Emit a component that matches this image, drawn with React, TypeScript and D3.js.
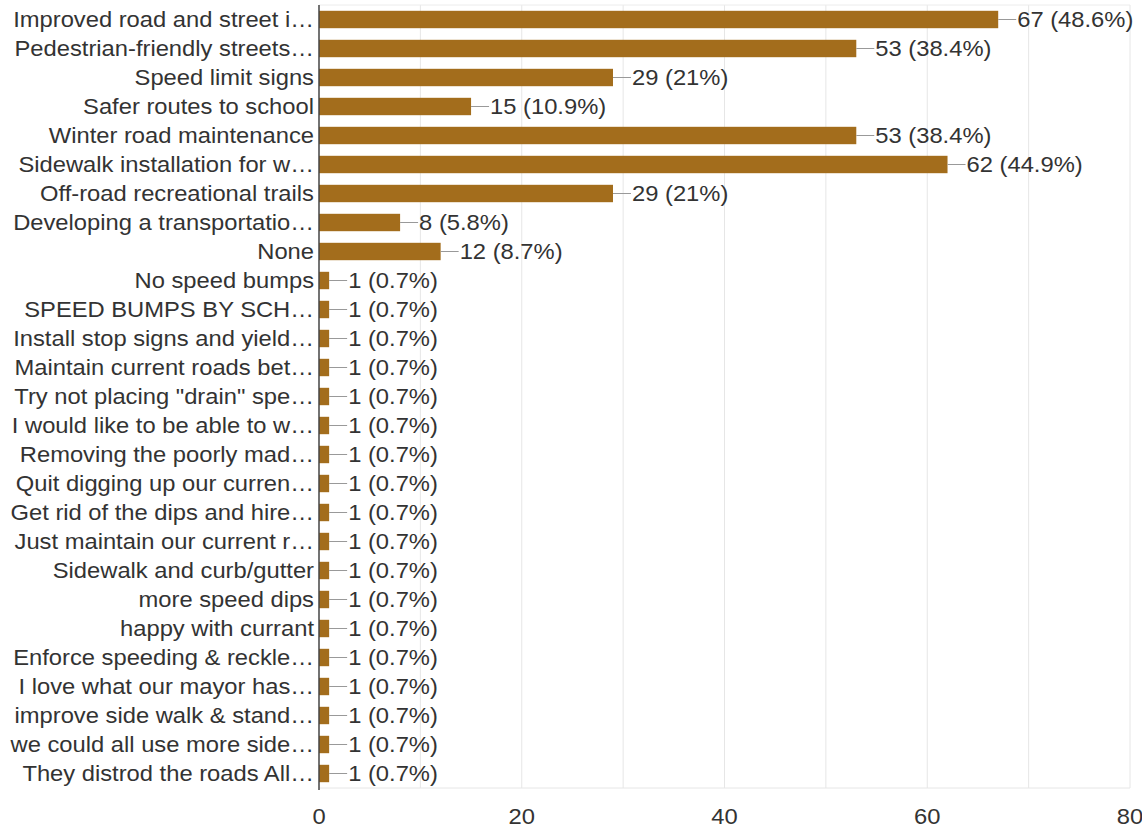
import * as d3 from "d3";

const LABELS = [
  "Improved road and street i…",
  "Pedestrian-friendly streets…",
  "Speed limit signs",
  "Safer routes to school",
  "Winter road maintenance",
  "Sidewalk installation for w…",
  "Off-road recreational trails",
  "Developing a transportatio…",
  "None",
  "No speed bumps",
  "SPEED BUMPS BY SCH…",
  "Install stop signs and yield…",
  "Maintain current roads bet…",
  "Try not placing \"drain\" spe…",
  "I would like to be able to w…",
  "Removing the poorly mad…",
  "Quit digging up our curren…",
  "Get rid of the dips and hire…",
  "Just maintain our current r…",
  "Sidewalk and curb/gutter",
  "more speed dips",
  "happy with currant",
  "Enforce speeding & reckle…",
  "I love what our mayor has…",
  "improve side walk & stand…",
  "we could all use more side…",
  "They distrod the roads All…",
];

const COUNTS = [67, 53, 29, 15, 53, 62, 29, 8, 12, 1, 1, 1, 1, 1, 1, 1, 1, 1, 1, 1, 1, 1, 1, 1, 1, 1, 1];
const PERCENTS = ["48.6", "38.4", "21", "10.9", "38.4", "44.9", "21", "5.8", "8.7",
  "0.7", "0.7", "0.7", "0.7", "0.7", "0.7", "0.7", "0.7", "0.7", "0.7", "0.7", "0.7", "0.7", "0.7", "0.7", "0.7", "0.7", "0.7"];
const X_TICKS = [0, 20, 40, 60, 80];
const GRID = [10, 20, 30, 40, 50, 60, 70, 80];

const WIDTH = 1142;
const HEIGHT = 829;
const MARGIN = { top: 5, right: 12, bottom: 41, left: 319 };
const BAR_COLOR = "#a36d1c";
const TEXT = "#333333";
const FONT = "'Liberation Sans', Arial, sans-serif";
const FS = 22;
const SX = 1.08; // text in the source is a little wide

export default function App() {
  const boundsWidth = WIDTH - MARGIN.left - MARGIN.right;
  const boundsHeight = HEIGHT - MARGIN.top - MARGIN.bottom;

  const xScale = d3.scaleLinear().domain([0, 80]).range([0, boundsWidth]);
  const yScale = d3
    .scaleBand()
    .domain(LABELS.map((_, i) => String(i)))
    .range([0, boundsHeight])
    .paddingInner(0.4)
    .paddingOuter(0.2);

  const bw = yScale.bandwidth();

  return (
    <svg
      width={WIDTH}
      height={HEIGHT}
      style={{ position: "absolute", left: 0, top: 0, background: "#fff" }}
      fontFamily={FONT}
    >
      <g transform={`translate(${MARGIN.left},${MARGIN.top})`}>
        {/* grid */}
        {GRID.map((g) => (
          <line
            key={g}
            x1={xScale(g)}
            x2={xScale(g)}
            y1={0}
            y2={boundsHeight}
            stroke="#e6e6e6"
            strokeWidth={1}
          />
        ))}
        <line x1={0} x2={boundsWidth} y1={0} y2={0} stroke="#ececec" />
        <line x1={0} x2={boundsWidth} y1={boundsHeight} y2={boundsHeight} stroke="#e6e6e6" />

        {LABELS.map((label, i) => {
          const y = yScale(String(i)) ?? 0;
          const cy = y + bw / 2;
          const xEnd = xScale(COUNTS[i]);
          return (
            <g key={i}>
              <rect x={0} y={y} width={xEnd} height={bw} fill={BAR_COLOR} />
              <line x1={xEnd} x2={xEnd + 18} y1={cy} y2={cy} stroke="#999" strokeWidth={1} />
              <text
                transform={`translate(${xEnd + 19},${cy}) scale(${SX},1)`}
                dy="0.36em"
                fontSize={FS}
                fill={TEXT}
              >
                {`${COUNTS[i]} (${PERCENTS[i]}%)`}
              </text>
              <text
                transform={`translate(-5,${cy}) scale(${SX},1)`}
                dy="0.36em"
                textAnchor="end"
                fontSize={FS}
                fill={TEXT}
              >
                {label}
              </text>
            </g>
          );
        })}

        {/* axis line */}
        <line x1={0} x2={0} y1={0} y2={boundsHeight + 2} stroke="#444" strokeWidth={1.5} />

        {X_TICKS.map((t) => (
          <text
            key={t}
            transform={`translate(${xScale(t)},${boundsHeight + 36}) scale(${SX},1)`}
            textAnchor="middle"
            fontSize={FS}
            fill={TEXT}
          >
            {t}
          </text>
        ))}
      </g>
    </svg>
  );
}
